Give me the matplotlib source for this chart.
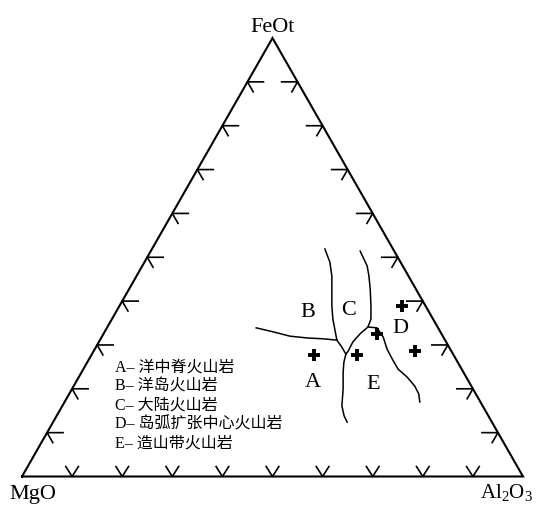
import numpy as np
import matplotlib
matplotlib.use("Agg")
import matplotlib.pyplot as plt

plt.rcParams['font.family'] = ['Liberation Serif', 'Noto Sans CJK SC', 'DejaVu Sans']
plt.rcParams['mathtext.fontset'] = 'custom'
plt.rcParams['mathtext.rm'] = 'Liberation Serif'


############## Data (FeOt %, Al2O3 %) ##############

# sample points
pts_fe = [27.7, 27.7, 32.5, 38.9, 28.6]
pts_al = [44.4, 53.0, 54.6, 56.4, 64.1]

# field boundaries
ab_fe = [33.9, 33.0, 32.0, 31.6, 31.4, 31.1]
ab_al = [29.8, 33.6, 37.5, 41.1, 44.4, 47.3]

bc_fe = [51.9, 48.9, 45.7, 42.1, 38.9, 35.9, 33.2, 31.1, 29.5, 27.9, 26.1, 23.8, 20.0, 16.1, 13.8, 12.4]
bc_al = [34.5, 37.0, 39.0, 40.8, 42.4, 44.1, 45.9, 47.3, 49.1, 50.7, 51.2, 52.2, 54.1, 55.8, 57.4, 58.7]

cd_fe = [51.4, 48.0, 45.7, 42.8, 38.9, 35.9, 34.1, 32.5, 30.7, 28.6, 27.9]
cd_al = [41.8, 44.9, 46.4, 48.1, 50.2, 51.7, 52.0, 51.2, 50.7, 50.8, 50.7]

de_fe = [34.1, 33.9, 31.8, 29.1, 26.8, 24.5, 22.7, 20.6, 18.8, 17.0]
de_al = [52.0, 53.9, 56.2, 58.3, 60.5, 62.8, 65.5, 68.1, 69.8, 70.9]

# field labels
field_names = ['A', 'B', 'C', 'D', 'E']
field_fe = [21.6, 37.7, 38.2, 33.9, 21.1]
field_al = [47.3, 38.2, 46.0, 58.5, 59.5]

legend_lines = ['A– 洋中脊火山岩', 'B– 洋岛火山岩', 'C– 大陆火山岩',
                'D– 岛弧扩张中心火山岩', 'E– 造山带火山岩']

tick_vals = [10, 20, 30, 40, 50, 60, 70, 80, 90]


############## Helpers ##############

H = np.sqrt(3) / 2

def tern(fe, al):
    fe = np.asarray(fe) / 100.0
    al = np.asarray(al) / 100.0
    return al + fe / 2, fe * H

# pixel scale of the triangle (px per unit)
sx = 501.0
sy = 506.3


############## Plot ##############

fig = plt.figure(figsize=(5.37, 5.06), dpi=100)
ax = fig.add_axes([0, 0, 1, 1])
ax.set_xlim(-22 / sx, 515 / sx)
ax.set_ylim(-28.5 / sy, 477.5 / sy)
ax.axis('off')

# triangle
ax.plot([0, 1, 0.5, 0], [0, 0, H, 0], color='k', lw=1.5, solid_joinstyle='miter')

# ticks
shaft = 16.0
wing = 11.5
for v in tick_vals:
    f = v / 100.0
    # left edge, arrow pointing left
    x0, y0 = f / 2, f * H
    ax.plot([x0 + shaft / sx, x0, x0 + wing * 0.5 / sx],
            [y0, y0, y0 - wing * H / sy], color='k', lw=1.2)
    # right edge, arrow pointing right
    x0, y0 = 1 - f / 2, f * H
    ax.plot([x0 - shaft / sx, x0, x0 - wing * 0.5 / sx],
            [y0, y0, y0 - wing * H / sy], color='k', lw=1.2)
    # bottom edge, V
    x0 = f
    ax.plot([x0 - wing * 0.55 / sx, x0, x0 + wing * 0.55 / sx],
            [wing * H / sy, 0, wing * H / sy], color='k', lw=1.2)

# boundaries
for fe, al in [(ab_fe, ab_al), (bc_fe, bc_al), (cd_fe, cd_al), (de_fe, de_al)]:
    x, y = tern(fe, al)
    ax.plot(x, y, color='k', lw=1.1)

# points
x, y = tern(pts_fe, pts_al)
ax.plot(x, y, linestyle='none', marker='+', ms=8.5, mew=2.8, color='k')

# field labels
x, y = tern(field_fe, field_al)
for name, xi, yi in zip(field_names, x, y):
    ax.text(xi, yi, name, fontsize=16, ha='center', va='center')

# corner labels
ax.text(0.5, (477.5 - 32) / sy, 'FeOt', fontsize=16, ha='center', va='baseline')
ax.text(-13 / sx, -21.5 / sy, 'MgO', fontsize=16, ha='left', va='baseline')
ax.text(511 / sx, -20.5 / sy, 'Al$_{2}$O$_{3}$', fontsize=15, ha='right', va='baseline')

# legend text
for i, s in enumerate(legend_lines):
    fig.text(115 / 537, 1 - (367 + 19.2 * i) / 506, s, fontsize=11.5,
             ha='left', va='center')

fig.savefig('out.png', dpi=100)
